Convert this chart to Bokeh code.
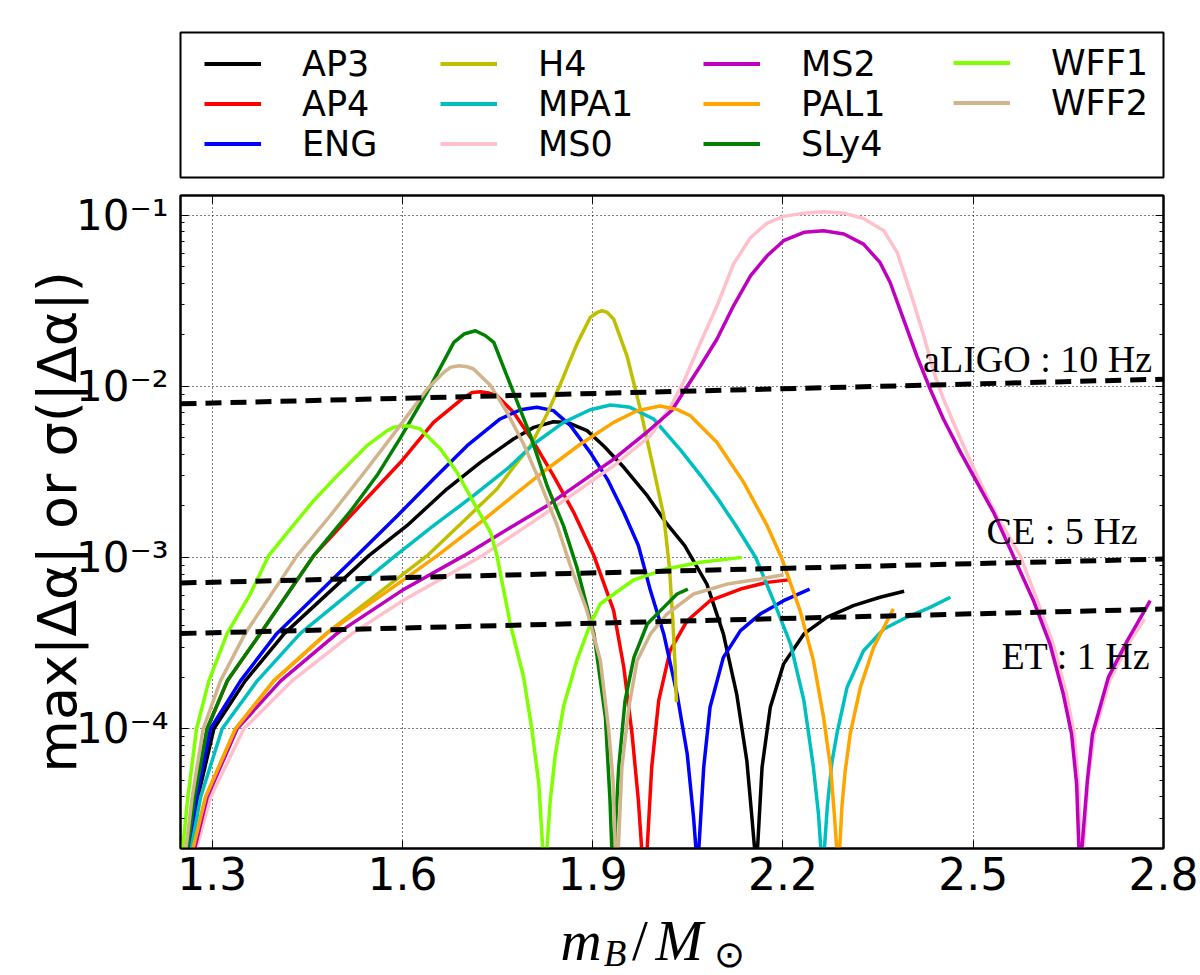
import numpy as np
from bokeh.plotting import figure
from bokeh.layouts import column
from bokeh.models import (FixedTicker, CustomJSTickFormatter, LinearAxis, LogAxis,
                          Legend, LegendItem, Label, Range1d)
from bokeh.core.properties import value
from bokeh.embed import file_html
from bokeh.resources import INLINE

# ---------------- data (x: baryon mass m_B/M_sun, y: log10 of max|Δα|) ----------------
EOS_NAMES = ["AP3", "AP4", "ENG", "H4", "MPA1", "MS0", "MS2", "PAL1", "SLy4", "WFF1", "WFF2"]
EOS_COLORS = ["#000000", "#ff0000", "#0000ff", "#bfbf00", "#00bfbf", "#ffc0cb",
              "#bf00bf", "#ffa500", "#008000", "#7fff00", "#d2b48c"]

AP3_m = [1.2647, 1.2774, 1.3026, 1.352, 1.414, 1.547, 1.607, 1.670, 1.723, 1.775, 1.807, 1.838,
         1.860, 1.891, 1.917, 1.949, 1.986, 2.017, 2.045, 2.080, 2.106, 2.127, 2.143, 2.151,
         2.155, 2.1575, 2.160, 2.167, 2.180, 2.201, 2.233, 2.269, 2.311, 2.353, 2.391]
AP3_log = [-4.72, -4.4, -4.0, -3.72, -3.443, -2.989, -2.814, -2.600, -2.444, -2.308, -2.240, -2.207,
           -2.211, -2.259, -2.347, -2.473, -2.639, -2.804, -2.93, -3.155, -3.446, -3.797, -4.186, -4.517,
           -4.69, -7, -4.69, -4.225, -3.874, -3.621, -3.446, -3.349, -3.281, -3.232, -3.197]

AP4_m = [1.2605, 1.272, 1.292, 1.324, 1.376, 1.460, 1.528, 1.597, 1.649, 1.697, 1.710, 1.723, 1.736,
         1.749, 1.775, 1.807, 1.838, 1.870, 1.902, 1.933, 1.949, 1.962, 1.972, 1.977, 1.9815, 1.986,
         1.993, 2.004, 2.022, 2.049, 2.085, 2.133, 2.175, 2.212]
AP4_log = [-4.72, -4.4, -4.0, -3.72, -3.443, -2.989, -2.717, -2.444, -2.211, -2.065, -2.036, -2.032, -2.039,
           -2.055, -2.152, -2.327, -2.522, -2.736, -2.99, -3.310, -3.641, -4.030, -4.419, -4.69, -7, -4.69,
           -4.225, -3.836, -3.544, -3.369, -3.252, -3.184, -3.145, -3.129]

ENG_m = [1.2632, 1.2753, 1.2973, 1.3446, 1.402, 1.528, 1.592, 1.649, 1.702, 1.754, 1.786, 1.812,
         1.838, 1.865, 1.896, 1.923, 1.949, 1.972, 1.991, 2.012, 2.033, 2.049, 2.059, 2.0625,
         2.065, 2.0675, 2.075, 2.085, 2.106, 2.133, 2.164, 2.201, 2.242]
ENG_log = [-4.72, -4.4, -4.0, -3.72, -3.443, -2.989, -2.756, -2.542, -2.347, -2.191, -2.137, -2.123,
           -2.142, -2.230, -2.386, -2.542, -2.737, -2.93, -3.193, -3.446, -3.797, -4.147, -4.517, -4.69,
           -7, -4.69, -4.225, -3.874, -3.583, -3.427, -3.330, -3.252, -3.184]

H4_m = [1.2684, 1.2894, 1.3367, 1.397, 1.48, 1.60, 1.639, 1.697, 1.749, 1.775, 1.802, 1.828,
        1.849, 1.875, 1.896, 1.907, 1.915, 1.923, 1.933, 1.954, 1.975, 1.996, 2.012, 2.021, 2.026,
        2.030, 2.032]
H4_log = [-4.72, -4.4, -4.0, -3.72, -3.443, -3.10, -2.989, -2.785, -2.600, -2.473, -2.347, -2.162,
          -1.987, -1.754, -1.598, -1.569, -1.559, -1.569, -1.608, -1.822, -2.133, -2.484, -2.756, -3.06,
          -3.35, -3.64, -3.845]

MPA1_m = [1.2658, 1.2816, 1.3157, 1.371, 1.439, 1.589, 1.649, 1.712, 1.765, 1.807, 1.854, 1.896,
          1.928, 1.959, 1.996, 2.038, 2.070, 2.096, 2.125, 2.157, 2.185, 2.212, 2.233, 2.248,
          2.256, 2.2595, 2.2625, 2.2655, 2.270, 2.277, 2.285, 2.301, 2.327, 2.359, 2.395, 2.432, 2.464]
MPA1_log = [-4.72, -4.4, -4.0, -3.72, -3.443, -2.989, -2.814, -2.639, -2.483, -2.337, -2.211, -2.137,
            -2.109, -2.123, -2.191, -2.37, -2.52, -2.65, -2.81, -3.0, -3.252, -3.505, -3.836, -4.225,
            -4.50, -4.69, -7, -4.69, -4.45, -4.20, -4.030, -3.758, -3.544, -3.417, -3.349, -3.291, -3.232]

MS0_m = [1.2737, 1.2973, 1.3499, 1.426, 1.521, 1.60, 1.726, 1.828, 1.933, 1.991, 2.022, 2.043,
         2.070, 2.096, 2.122, 2.149, 2.175, 2.201, 2.233, 2.264, 2.296, 2.327, 2.359, 2.380,
         2.401, 2.422, 2.438, 2.453, 2.480, 2.506, 2.537, 2.574, 2.601, 2.626, 2.647, 2.659,
         2.666, 2.669, 2.6715, 2.674, 2.681, 2.691, 2.715, 2.745, 2.770]
MS0_log = [-4.72, -4.4, -4.0, -3.72, -3.443, -3.252, -2.989, -2.736, -2.464, -2.289, -2.123, -1.977,
           -1.744, -1.530, -1.286, -1.131, -1.047, -1.008, -0.989, -0.981, -0.989, -1.020, -1.092, -1.218,
           -1.452, -1.705, -1.919, -2.074, -2.308, -2.522, -2.756, -2.989, -3.252, -3.505, -3.797, -4.030,
           -4.322, -4.69, -7, -4.69, -4.30, -4.03, -3.72, -3.50, -3.36]

MS2_m = [1.271, 1.292, 1.3393, 1.408, 1.497, 1.599, 1.697, 1.775, 1.828, 1.881, 1.933, 1.988,
         2.025, 2.043, 2.070, 2.096, 2.122, 2.149, 2.175, 2.201, 2.233, 2.264, 2.296, 2.327,
         2.353, 2.369, 2.390, 2.411, 2.432, 2.453, 2.480, 2.506, 2.532, 2.560, 2.595, 2.621,
         2.642, 2.655, 2.663, 2.6665, 2.669, 2.6715, 2.680, 2.688, 2.713, 2.743, 2.767, 2.779]
MS2_log = [-4.72, -4.4, -4.0, -3.72, -3.443, -3.193, -2.989, -2.814, -2.697, -2.561, -2.425, -2.26,
           -2.14, -2.035, -1.880, -1.724, -1.530, -1.354, -1.238, -1.150, -1.101, -1.092, -1.111, -1.170,
           -1.277, -1.394, -1.608, -1.822, -2.016, -2.191, -2.386, -2.561, -2.736, -2.965, -3.252, -3.505,
           -3.797, -4.030, -4.322, -4.69, -7, -4.69, -4.30, -4.03, -3.70, -3.485, -3.33, -3.252]

PAL1_m = [1.2684, 1.2894, 1.3367, 1.397, 1.481, 1.60, 1.655, 1.723, 1.775, 1.828, 1.881, 1.933,
          1.970, 2.006, 2.033, 2.054, 2.096, 2.138, 2.175, 2.197, 2.227, 2.248, 2.264, 2.275,
          2.281, 2.2845, 2.287, 2.2895, 2.293, 2.298, 2.306, 2.322, 2.343, 2.374]
PAL1_log = [-4.72, -4.4, -4.0, -3.72, -3.443, -3.135, -2.989, -2.795, -2.639, -2.483, -2.337, -2.211,
            -2.143, -2.115, -2.135, -2.172, -2.328, -2.561, -2.814, -2.995, -3.310, -3.602, -3.933, -4.225,
            -4.50, -4.69, -7, -4.69, -4.45, -4.25, -4.030, -3.758, -3.524, -3.300]

SLy4_m = [1.2605, 1.272, 1.292, 1.3236, 1.376, 1.460, 1.52, 1.56, 1.597, 1.644, 1.681, 1.697, 1.715,
          1.731, 1.744, 1.775, 1.802, 1.828, 1.854, 1.875, 1.902, 1.920, 1.927, 1.930, 1.932, 1.934,
          1.941, 1.951, 1.965, 1.986, 2.012, 2.033, 2.050]
SLy4_log = [-4.72, -4.4, -4.0, -3.72, -3.443, -2.989, -2.72, -2.52, -2.30, -2.00, -1.744, -1.695, -1.676,
            -1.705, -1.744, -2.036, -2.289, -2.581, -2.815, -3.057, -3.446, -3.933, -4.4, -4.69, -7, -4.69,
            -4.225, -3.836, -3.583, -3.388, -3.291, -3.213, -3.184]

WFF1_m = [1.2527, 1.2616, 1.2753, 1.2947, 1.3236, 1.360, 1.389, 1.423, 1.460, 1.502, 1.544, 1.576,
          1.586, 1.599, 1.613, 1.628, 1.660, 1.686, 1.712, 1.739, 1.749, 1.770, 1.791, 1.804, 1.815,
          1.821, 1.8245, 1.828, 1.833, 1.841, 1.854, 1.875, 1.895, 1.912, 1.965, 2.017, 2.070, 2.135]
WFF1_log = [-4.72, -4.4, -4.0, -3.72, -3.443, -3.213, -2.989, -2.834, -2.668, -2.503, -2.347, -2.259,
            -2.240, -2.230, -2.234, -2.249, -2.366, -2.502, -2.678, -2.853, -2.99, -3.388, -3.699, -4.001,
            -4.322, -4.69, -7, -4.69, -4.42, -4.15, -3.87, -3.60, -3.40, -3.27, -3.13, -3.065, -3.028, -2.999]

WFF2_m = [1.2579, 1.2684, 1.2858, 1.313, 1.352, 1.434, 1.486, 1.544, 1.592, 1.639, 1.665, 1.676,
          1.689, 1.702, 1.712, 1.739, 1.765, 1.791, 1.817, 1.844, 1.865, 1.890, 1.912, 1.925, 1.932,
          1.9355, 1.938, 1.9405, 1.946, 1.957, 1.970, 1.991, 2.017, 2.059, 2.112, 2.164, 2.201]
WFF2_log = [-4.72, -4.4, -4.0, -3.72, -3.443, -2.989, -2.756, -2.483, -2.250, -2.016, -1.919, -1.889,
            -1.880, -1.886, -1.899, -1.996, -2.153, -2.337, -2.561, -2.814, -3.05, -3.30, -3.60, -4.0,
            -4.3, -4.69, -7, -4.69, -4.225, -3.874, -3.602, -3.446, -3.330, -3.213, -3.155, -3.125, -3.100]

SERIES = {
    "AP3": (AP3_m, AP3_log), "AP4": (AP4_m, AP4_log), "ENG": (ENG_m, ENG_log),
    "H4": (H4_m, H4_log), "MPA1": (MPA1_m, MPA1_log), "MS0": (MS0_m, MS0_log),
    "MS2": (MS2_m, MS2_log), "PAL1": (PAL1_m, PAL1_log), "SLy4": (SLy4_m, SLy4_log),
    "WFF1": (WFF1_m, WFF1_log), "WFF2": (WFF2_m, WFF2_log),
}

# detector sensitivities sigma(|Δα|)
DET_LABELS = ["aLIGO : 10 Hz", "CE : 5 Hz", "ET : 1 Hz"]
DET_m = [1.25, 2.8]
aLIGO_sigma = [7.9e-3, 1.10e-2]
CE_sigma = [7.1e-4, 9.8e-4]
ET_sigma = [3.6e-4, 5.0e-4]

X_TICKS = [1.3, 1.6, 1.9, 2.2, 2.5, 2.8]
Y_TICKS = [1e-4, 1e-3, 1e-2, 1e-1]
Y_MINOR = [k * 10.0 ** e for e in (-5, -4, -3, -2) for k in range(2, 10)]

SERIF = "Liberation Serif"
SANS = "DejaVu Sans"


def bare(fig):
    fig.grid.visible = False
    fig.outline_line_color = None
    fig.background_fill_color = "white"
    fig.border_fill_color = "white"
    return fig


# ---------------- main figure ----------------
x_range = Range1d(1.25, 2.8)
p = figure(width=1200, height=722, x_range=x_range, y_range=Range1d(2e-5, 0.13),
           y_axis_type="log", output_backend="svg", toolbar_location=None,
           min_border_left=180, min_border_right=37, min_border_top=10, min_border_bottom=59)
p.background_fill_color = "white"
p.border_fill_color = "white"
p.outline_line_color = "black"
p.outline_line_width = 2
p.outline_line_alpha = 1

xticker = FixedTicker(ticks=X_TICKS)
yticker = FixedTicker(ticks=Y_TICKS, minor_ticks=Y_MINOR)

p.xaxis.ticker = xticker
p.xaxis.formatter = CustomJSTickFormatter(code="return tick.toFixed(1);")
p.yaxis.ticker = yticker
p.yaxis.formatter = CustomJSTickFormatter(code="""
const e = Math.round(Math.log10(tick));
const sup = {'-':'\u207b','0':'\u2070','1':'\u00b9','2':'\u00b2','3':'\u00b3','4':'\u2074',
             '5':'\u2075','6':'\u2076','7':'\u2077','8':'\u2078','9':'\u2079'};
return '10' + String(e).split('').map(c => sup[c]).join('');
""")

for ax in (p.xaxis[0], p.yaxis[0]):
    ax.major_label_text_font = SANS
    ax.major_label_text_color = "black"
    ax.axis_line_width = 2
    ax.major_tick_in = 8
    ax.major_tick_out = 0
    ax.minor_tick_in = 4
    ax.minor_tick_out = 0
p.xaxis.major_label_text_font_size = "44px"
p.yaxis.major_label_text_font_size = "42px"
p.xaxis.major_label_standoff = 8
p.yaxis.major_label_standoff = 12

p.yaxis.axis_label = "max|Δα| or σ(|Δα|)"
p.yaxis.axis_label_text_font = SANS
p.yaxis.axis_label_text_font_style = "normal"
p.yaxis.axis_label_text_font_size = "54px"
p.yaxis.axis_label_text_color = "black"
p.yaxis.axis_label_standoff = -16

blank = "return '';"
top_ax = LinearAxis(ticker=xticker, formatter=CustomJSTickFormatter(code=blank),
                    major_tick_in=8, major_tick_out=0, axis_line_width=2,
                    major_label_standoff=0, major_label_text_font_size="1px")
right_ax = LogAxis(ticker=yticker, formatter=CustomJSTickFormatter(code=blank),
                   major_tick_in=8, major_tick_out=0, minor_tick_in=4, minor_tick_out=0,
                   axis_line_width=2, major_label_standoff=0, major_label_text_font_size="1px")
p.add_layout(top_ax, "above")
p.add_layout(right_ax, "right")

p.xgrid.ticker = xticker
p.ygrid.ticker = yticker
for g in (p.xgrid[0], p.ygrid[0]):
    g.grid_line_color = "black"
    g.grid_line_alpha = 1
    g.grid_line_width = 1
    g.grid_line_dash = "1 3"

for name, color in zip(EOS_NAMES, EOS_COLORS):
    m, lg = SERIES[name]
    p.line(m, 10.0 ** np.array(lg), line_color=color, line_width=3.5)

for sig in (aLIGO_sigma, CE_sigma, ET_sigma):
    p.line(DET_m, sig, line_color="black", line_width=5, line_dash="16 9")

det_pos = [(2.782, 0.01449), (2.759, 1.435e-3), (2.779, 2.67e-4)]
for txt, (lx, ly) in zip(DET_LABELS, det_pos):
    p.add_layout(Label(x=lx, y=ly, text=txt, text_align="right", text_baseline="alphabetic",
                       text_font=SERIF, text_font_size="38px", text_color="black"))

# ---------------- legend strip (its frame is the legend box) ----------------
lf = figure(width=1200, height=185, x_range=Range1d(0, 1), y_range=Range1d(0, 1),
            x_axis_location=None, y_axis_location=None, output_backend="svg",
            toolbar_location=None, min_border_left=180, min_border_right=32,
            min_border_top=32, min_border_bottom=8)
bare(lf)
lf.outline_line_color = "black"
lf.outline_line_width = 2
lf.outline_line_alpha = 1

legend_cols = [EOS_NAMES[0:3], EOS_NAMES[3:6], EOS_NAMES[6:9], EOS_NAMES[9:11]]
col_x = [24, 260, 523, 773]
for names, cx in zip(legend_cols, col_x):
    its = []
    for n in names:
        c = EOS_COLORS[EOS_NAMES.index(n)]
        r = lf.line([np.nan], [np.nan], line_color=c, line_width=4)
        its.append(LegendItem(label=n, renderers=[r]))
    lg_ = Legend(items=its, location=(cx, 135.5 - len(names) * 40.7), orientation="vertical",
                 label_text_font=SANS, label_text_font_size="35px", label_text_color="black",
                 glyph_width=57, glyph_height=35, label_height=35, label_width=40,
                 label_standoff=41, spacing=0, padding=0, margin=0,
                 border_line_color=None, background_fill_alpha=0)
    lf.add_layout(lg_, "center")

# ---------------- x-axis title strip (frame aligned with the main frame) ----------------
xf = figure(width=1200, height=68, x_range=x_range, y_range=Range1d(0, 68),
            x_axis_location=None, y_axis_location=None, output_backend="svg",
            toolbar_location=None, min_border=0)
bare(xf)
xlab = [("m", "italic", "57px", 1.849, 35),
        ("B", "italic", "37px", 1.9175, 22),
        ("/", "normal", "57px", 1.962, 35),
        ("M", "italic", "57px", 1.999, 35),
        ("⊙", "normal", "37px", 2.0905, 21)]
for txt, style, size, tx, ty in xlab:
    xf.text(x=[tx], y=[ty], text=[txt], text_align="left", text_baseline="middle",
            text_font=value(SERIF), text_font_style=style, text_font_size=size, text_color="black")

layout = column(lf, p, xf)
open("out.html", "w").write(file_html(layout, INLINE))
